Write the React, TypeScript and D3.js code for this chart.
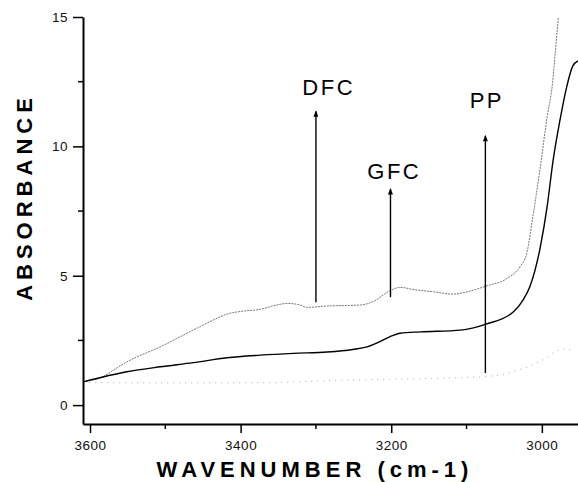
import { useEffect, useRef } from 'react';
import * as d3 from 'd3';

// solid black spectrum
const solidWavenumbers = [3609, 3551, 3507, 3463, 3418, 3374, 3330, 3285, 3251, 3232, 3215, 3202, 3188, 3161, 3108, 3074, 3038, 3025, 3016, 3002, 2993, 2985, 2976, 2967, 2959, 2952];
const solidValues = [0.9, 1.29, 1.48, 1.64, 1.83, 1.93, 2.0, 2.05, 2.15, 2.25, 2.45, 2.64, 2.78, 2.83, 2.9, 3.13, 3.6, 4.06, 4.57, 6.12, 7.67, 9.47, 11.0, 12.3, 13.1, 13.3];

// grey dotted spectrum (upper)
const dottedWavenumbers = [3609, 3583, 3569, 3551, 3507, 3463, 3441, 3418, 3397, 3374, 3352, 3338, 3321, 3312, 3285, 3241, 3224, 3202, 3188, 3171, 3144, 3118, 3099, 3074, 3046, 3029, 3020, 3012, 3002, 2993, 2986, 2982, 2978];
const dottedValues = [0.9, 1.1, 1.35, 1.67, 2.25, 2.9, 3.22, 3.52, 3.63, 3.7, 3.87, 3.93, 3.87, 3.78, 3.83, 3.87, 4.0, 4.42, 4.55, 4.47, 4.38, 4.29, 4.38, 4.6, 4.9, 5.35, 5.87, 7.28, 9.21, 11.14, 12.4, 13.7, 15.0];

// faint sparse spectrum (lower)
const faintWavenumbers = [3609, 3480, 3361, 3280, 3199, 3120, 3068, 3049, 3032, 3016, 2993, 2980, 2969, 2956];
const faintValues = [0.87, 0.86, 0.87, 0.95, 1.0, 1.05, 1.12, 1.2, 1.35, 1.5, 1.85, 2.1, 2.16, 2.1];

// annotation arrows
const arrowNames = ['DFC', 'GFC', 'PP'];
const arrowWavenumbers = [3300, 3201, 3075];
const arrowFrom = [3.98, 4.17, 1.24];
const arrowTo = [11.4, 8.4, 10.45];
const labelWavenumbers = [3283, 3196, 3073];
const labelValues = [11.98, 8.73, 11.48];

const xMajorTicks = [3600, 3400, 3200, 3000];
const xMinorTicks = [3500, 3300, 3100];
const yMajorTicks = [0, 5, 10, 15];
const yMinorTicks = [2.5, 7.5, 12.5];

const width = 578;
const height = 482;
const font = '"Liberation Sans", Arial, sans-serif';

const App = () => {
  const ref = useRef<SVGSVGElement | null>(null);

  useEffect(() => {
    if (!ref.current) return;
    const svg = d3.select(ref.current);
    svg.selectAll('*').remove();

    const x = d3.scaleLinear().domain([3609.3, 2952]).range([83, 578]);
    const y = d3.scaleLinear().domain([-0.73, 15]).range([424, 17]);

    svg
      .append('defs')
      .append('marker')
      .attr('id', 'head')
      .attr('viewBox', '0 0 8 10')
      .attr('refX', 4)
      .attr('refY', 1)
      .attr('markerWidth', 5)
      .attr('markerHeight', 8)
      .attr('markerUnits', 'userSpaceOnUse')
      .attr('orient', '0')
      .append('path')
      .attr('d', 'M0,10 L4,0 L8,10 Z')
      .attr('fill', '#000');

    const line = d3
      .line<[number, number]>()
      .x((d) => x(d[0]))
      .y((d) => y(d[1]))
      .curve(d3.curveMonotoneX);

    const faint = faintWavenumbers.map((w, i) => [w, faintValues[i]] as [number, number]);
    const dotted = dottedWavenumbers.map((w, i) => [w, dottedValues[i]] as [number, number]);
    const solid = solidWavenumbers.map((w, i) => [w, solidValues[i]] as [number, number]);

    svg
      .append('path')
      .attr('d', line(faint))
      .attr('fill', 'none')
      .attr('stroke', '#aaa')
      .attr('stroke-width', 1)
      .attr('stroke-dasharray', '1 5');

    svg
      .append('path')
      .attr('d', line(dotted))
      .attr('fill', 'none')
      .attr('stroke', '#777')
      .attr('stroke-width', 1)
      .attr('stroke-dasharray', '2 1');

    svg
      .append('path')
      .attr('d', line(solid))
      .attr('fill', 'none')
      .attr('stroke', '#000')
      .attr('stroke-width', 1.4);

    // arrows + labels
    arrowNames.forEach((name, i) => {
      svg
        .append('line')
        .attr('x1', x(arrowWavenumbers[i]))
        .attr('x2', x(arrowWavenumbers[i]))
        .attr('y1', y(arrowFrom[i]))
        .attr('y2', y(arrowTo[i]) + 1)
        .attr('stroke', '#000')
        .attr('stroke-width', 1.4)
        .attr('marker-end', 'url(#head)');
      svg
        .append('text')
        .attr('x', x(labelWavenumbers[i]))
        .attr('y', y(labelValues[i]))
        .attr('text-anchor', 'middle')
        .attr('font-family', font)
        .attr('font-size', 22)
        .attr('letter-spacing', 2.5)
        .attr('fill', '#000')
        .text(name);
    });

    // x axis
    const xAxis = svg.append('g').attr('transform', `translate(0,${y(-0.73)})`);
    xAxis.call(
      d3.axisBottom(x).tickValues(xMajorTicks).tickSize(9).tickSizeOuter(0).tickPadding(7).tickFormat(d3.format('d'))
    );
    xAxis.append('g').selectAll('line').data(xMinorTicks).join('line')
      .attr('x1', (d) => x(d)).attr('x2', (d) => x(d)).attr('y1', 0).attr('y2', 5)
      .attr('stroke', '#000').attr('stroke-width', 1.5);

    // y axis
    const yAxis = svg.append('g').attr('transform', `translate(${x(3609.3)},0)`);
    yAxis.call(d3.axisLeft(y).tickValues(yMajorTicks).tickSize(10).tickSizeOuter(0).tickPadding(5));
    yAxis.append('g').selectAll('line').data(yMinorTicks).join('line')
      .attr('x1', 0).attr('x2', -5).attr('y1', (d) => y(d)).attr('y2', (d) => y(d))
      .attr('stroke', '#000').attr('stroke-width', 1.5);

    svg.selectAll('.domain').attr('stroke', '#000').attr('stroke-width', 2);
    svg.selectAll('.tick line').attr('stroke', '#000').attr('stroke-width', 1.5);
    svg.selectAll('.tick text')
      .attr('font-family', font)
      .attr('font-size', 13.5)
      .attr('letter-spacing', 0.5)
      .attr('fill', '#111');

    // axis titles
    svg
      .append('text')
      .attr('x', 315)
      .attr('y', 477)
      .attr('text-anchor', 'middle')
      .attr('font-family', font)
      .attr('font-weight', 'bold')
      .attr('font-size', 22)
      .attr('letter-spacing', 5)
      .text('WAVENUMBER (cm-1)');

    svg
      .append('text')
      .attr('transform', 'translate(32,197) rotate(-90)')
      .attr('text-anchor', 'middle')
      .attr('font-family', font)
      .attr('font-weight', 'bold')
      .attr('font-size', 22)
      .attr('letter-spacing', 5)
      .text('ABSORBANCE');
  }, []);

  return (
    <svg
      ref={ref}
      width={width}
      height={height}
      style={{ position: 'absolute', left: 0, top: 0, background: '#fff' }}
    />
  );
};

export default App;
